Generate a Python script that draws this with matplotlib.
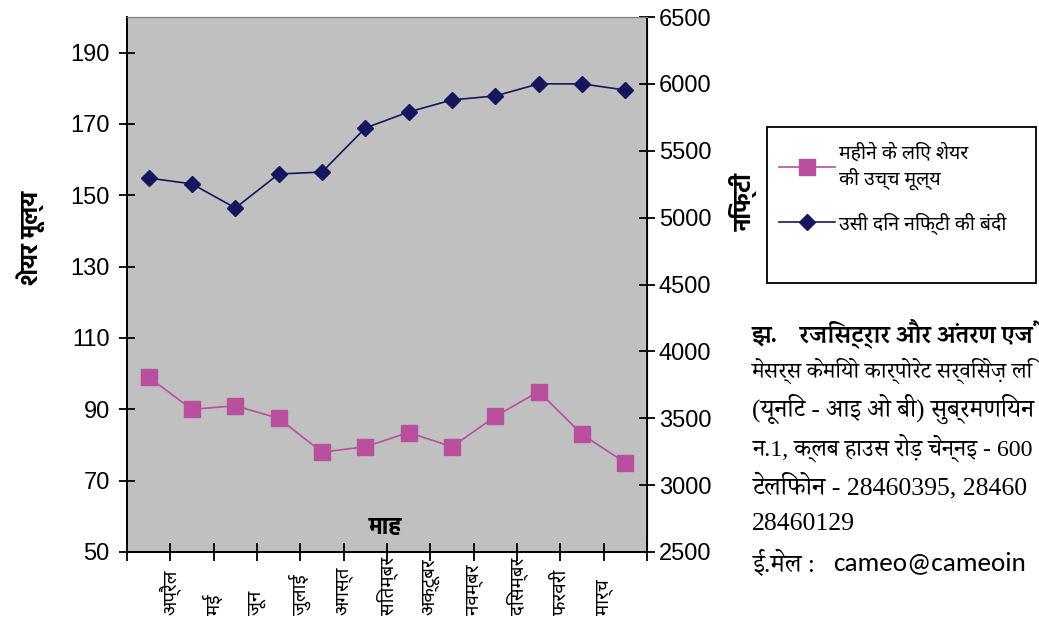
import matplotlib
matplotlib.use("Agg")
from matplotlib import pyplot as plt
from matplotlib import font_manager
from matplotlib.patches import Rectangle

# data
months = ["अप्रैल", "मई", "जून", "जुलाई", "अगस्त", "सितम्बर", "अक्टूबर",
          "नवम्बर", "दिसम्बर", "फरवरी", "मार्च"]
share_high = [99, 90, 91, 87.5, 78, 79.5, 83.5, 79.5, 88, 95, 83, 75]
nifty_close = [5296, 5252, 5072, 5326, 5341, 5670, 5790, 5880, 5910, 6000, 6000, 5954]
left_ticks = [50, 70, 90, 110, 130, 150, 170, 190]
right_ticks = [2500, 3000, 3500, 4000, 4500, 5000, 5500, 6000, 6500]

label_share = "महीने के लिए शेयर\nकी उच्च मूल्य"
label_nifty = "उसी दिन निफ्टी की बंदी"
# the address block runs off the right edge in the source, only the visible part kept
head_line = "झ.    रजिस्ट्रार और अंतरण एजें"
address_lines = [
    "मेसर्स केमियो कार्पोरेट सर्विसेज़ लि",
    "(यूनिट - आइ ओ बी) सुब्रमणियन",
    "न.1, क्लब हाउस रोड़ चेन्नइ - 600",
    "टेलिफोन - 28460395, 28460",
    "28460129",
]
mail_label = "ई.मेल :"
mail_addr = "cameo@cameoin"

names = set(f.name for f in font_manager.fontManager.ttflist)
def pick(*cands):
    return [c for c in cands if c in names] + ["DejaVu Sans"]

sans_dev = pick("Noto Sans Devanagari", "Hind", "Mukta", "FreeSans")
bold_dev = pick("Hind", "Ek Mukta", "Mukta", "Noto Sans Devanagari", "FreeSans")
serif_bold = pick("Liberation Serif", "Sura", "Martel", "Noto Serif Devanagari", "FreeSerif")
times_dev = pick("Liberation Serif", "Noto Serif Devanagari", "Tiro Devanagari Hindi", "FreeSerif")
arial = pick("Liberation Sans", "Arimo")
calibri = pick("Carlito", "Open Sans")

PINK = "#BA4FA0"
NAVY = "#16165E"

fig = plt.figure(figsize=(10.39, 6.2), dpi=100)
ax = fig.add_axes([127 / 1039, 68 / 620, 520 / 1039, 535 / 620])
ax.set_facecolor("#C0C0C0")
ax2 = ax.twinx()

x = list(range(len(share_high)))
l1, = ax.plot(x, share_high, color=PINK, lw=1.2, marker="s", ms=11,
              mfc=PINK, mec=PINK, zorder=3)
l2, = ax2.plot(x, nifty_close, color=NAVY, lw=1.2, marker="D", ms=8,
               mfc=NAVY, mec=NAVY, zorder=3)

ax.set_xlim(-0.5, len(x) - 0.5)
ax.set_ylim(50, 200)
ax2.set_ylim(2500, 6500)
ax.set_yticks(left_ticks)
ax2.set_yticks(right_ticks)
ax.set_xticks([i - 0.5 for i in range(len(x) + 1)])
ax.set_xticklabels([])

for s in ["left", "bottom"]:
    ax.spines[s].set_linewidth(1.3)
for s in ["left", "bottom", "right"]:
    ax2.spines[s].set_linewidth(1.3)
ax.spines["top"].set_color("#808080")
ax2.spines["top"].set_color("#808080")

ax.tick_params(axis="y", direction="inout", length=11, width=1.3, pad=7, labelsize=17)
ax.tick_params(axis="x", direction="inout", length=13, width=1.3)
ax2.tick_params(axis="y", direction="inout", length=11, width=1.3, pad=3, labelsize=17)
for lab in ax.get_yticklabels() + ax2.get_yticklabels():
    lab.set_family(arial)

# month names sit on the inner tick marks, reading bottom to top
for i, m in enumerate(months):
    ax.text(i + 0.5, -0.118, m, rotation=90, ha="center", va="bottom",
            fontsize=13.5, family=sans_dev, transform=ax.get_xaxis_transform())

ax.text(0.497, 0.045, "माह", transform=ax.transAxes, ha="center", va="center",
        fontsize=17, fontweight="bold", family=bold_dev)
fig.text(31 / 1039, 1 - 238 / 620, "शेयर मूल्य", rotation=90, ha="center", va="center",
         fontsize=17, fontweight="bold", family=bold_dev)
fig.text(744 / 1039, 1 - 202 / 620, "निफ्टी", rotation=90, ha="center", va="center",
         fontsize=17, fontweight="bold", family=bold_dev)

# legend box
fig.patches.append(Rectangle((767 / 1039, 1 - 283 / 620), 269 / 1039, 156 / 620,
                             transform=fig.transFigure, fill=True, fc="white",
                             ec="black", lw=1.3, zorder=1))
fig.legend([l1, l2], [label_share, label_nifty], loc="upper left",
           bbox_to_anchor=(771 / 1039, 1 - 136 / 620), frameon=False,
           prop={"family": sans_dev, "size": 14}, handlelength=2.9,
           handletextpad=0.2, labelspacing=1.15, borderaxespad=0)

# address block to the right
texts = []
texts.append(fig.text(752 / 1039, 1 - 333 / 620, head_line, ha="left", va="center",
                      fontsize=18, fontweight="bold", family=serif_bold))
for k, line in enumerate(address_lines):
    texts.append(fig.text(752 / 1039, 1 - (371 + 38.3 * k) / 620, line, ha="left",
                          va="center", fontsize=18.5, family=times_dev))
texts.append(fig.text(752 / 1039, 1 - 563 / 620, mail_label, ha="left", va="center",
                      fontsize=18.5, family=times_dev))
texts.append(fig.text(833 / 1039, 1 - 563 / 620, mail_addr, ha="left", va="center",
                      fontsize=19.5, family=calibri))

# shrink any line that would run past the right edge
r = fig.canvas.get_renderer()
for t in texts:
    bb = t.get_window_extent(renderer=r)
    if bb.x1 > 1034:
        t.set_fontsize(t.get_fontsize() * (1034 - bb.x0) / bb.width)

fig.savefig("out.png")
